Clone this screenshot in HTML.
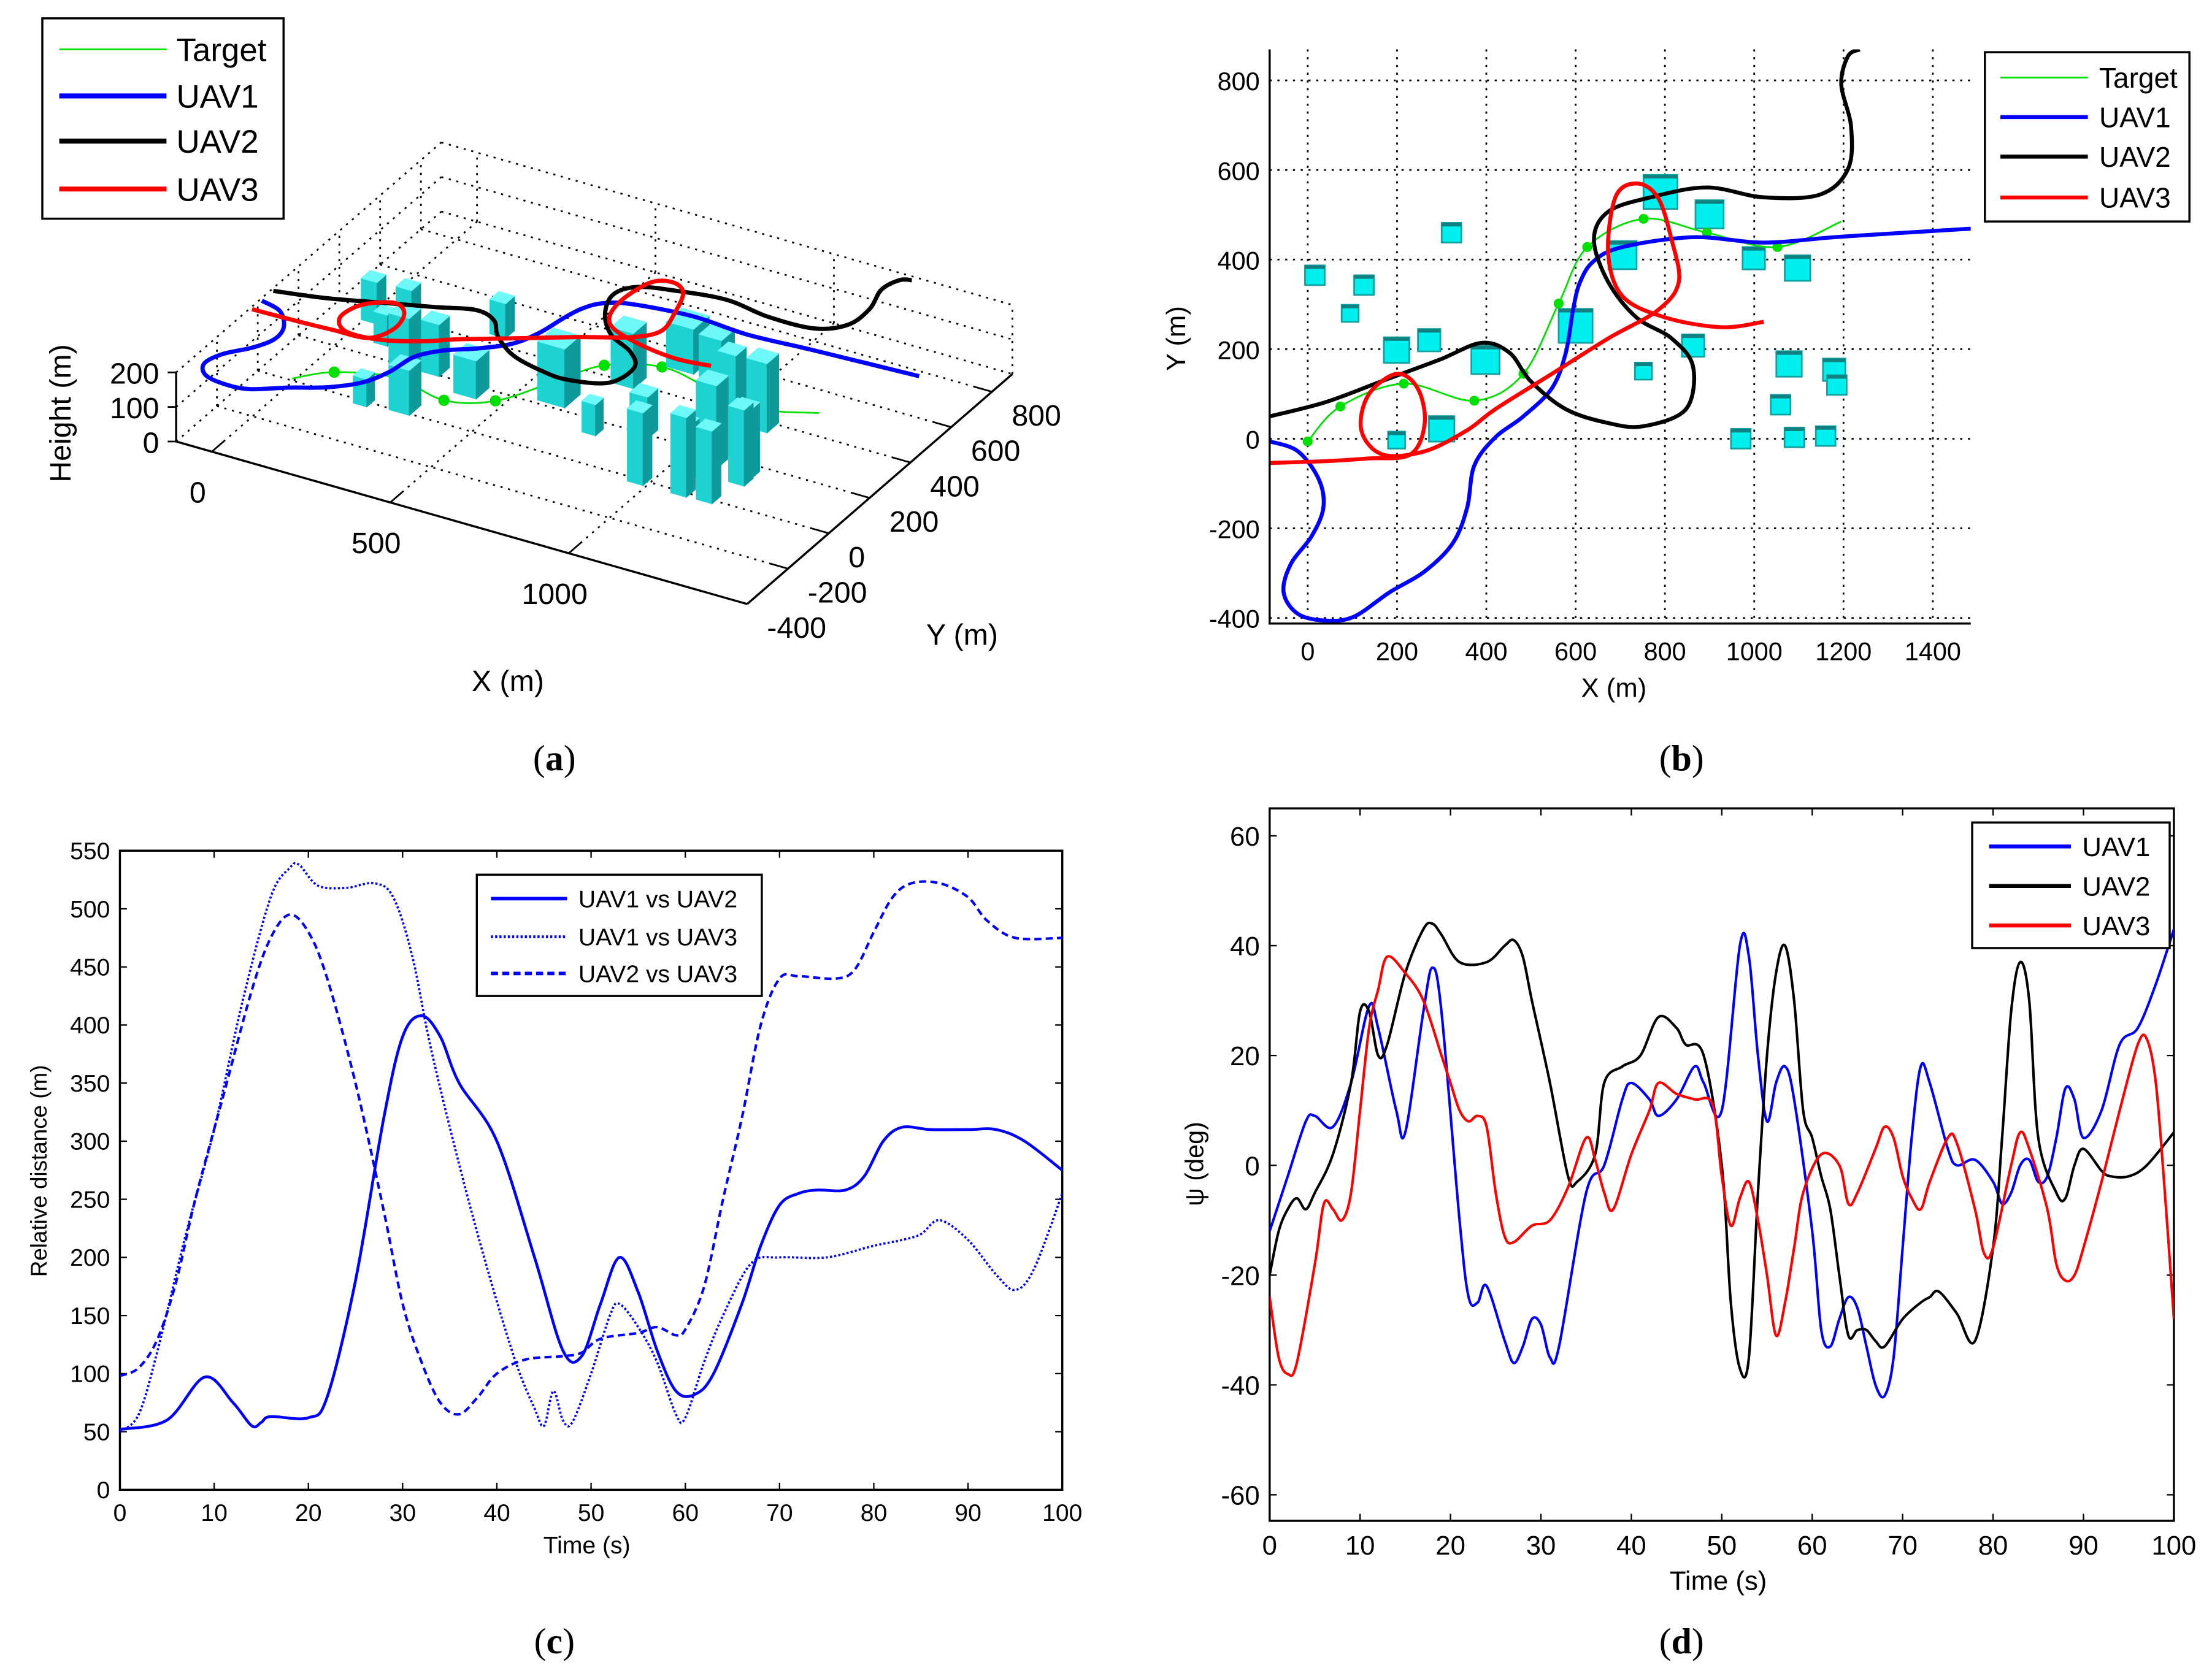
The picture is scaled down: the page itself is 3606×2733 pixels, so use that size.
<!DOCTYPE html>
<html><head><meta charset="utf-8"><style>
html,body{margin:0;padding:0;background:#fff}
svg{display:block}
text{font-family:"Liberation Sans Narrow","Liberation Sans",sans-serif;fill:#000}
.cap{font-family:"Liberation Serif",serif;font-size:26px}
</style></head><body>
<svg id="s" xmlns="http://www.w3.org/2000/svg" width="3606" height="2733" viewBox="0 0 1568 1188" preserveAspectRatio="none">
<defs><clipPath id="cb"><rect x="900" y="35" width="497" height="407"/></clipPath>
<clipPath id="cc"><rect x="85" y="603" width="668" height="453"/></clipPath>
<clipPath id="cd"><rect x="900" y="573" width="641" height="505"/></clipPath></defs>
<text class="cap" x="393" y="546" text-anchor="middle">(<tspan font-weight="bold">a</tspan>)</text>
<text class="cap" x="1192" y="546" text-anchor="middle">(<tspan font-weight="bold">b</tspan>)</text>
<text class="cap" x="393" y="1172" text-anchor="middle">(<tspan font-weight="bold">c</tspan>)</text>
<text class="cap" x="1192" y="1172" text-anchor="middle">(<tspan font-weight="bold">d</tspan>)</text>
</svg>
<script>
// ---------- data ----------
const uav1X=[-85,-22,25,35,9,-38,-54,-22,41,104,183,262,325,357,373,420,483,547,578,594,610,641,705,863,1021,1179,1337,1485];
const uav1Y=[-6,-28,-91,-154,-217,-280,-343,-391,-406,-397,-343,-296,-233,-154,-60,3,50,113,192,287,350,397,428,450,438,450,460,469];
const uav2X=[-85,41,167,294,389,452,499,578,673,752,847,863,815,736,673,641,673,768,894,1021,1147,1210,1217,1195,1210,1236];
const uav2Y=[50,82,129,176,214,192,129,66,35,28,66,161,224,271,350,444,507,539,561,539,545,602,696,791,854,869];
const uav3X=[-85,41,136,230,262,246,199,136,120,167,262,357,420,547,673,784,831,815,784,736,689,673,705,800,926,1021];
const uav3Y=[-54,-50,-44,-35,35,113,145,98,19,-35,-28,19,66,145,224,287,350,444,539,570,539,413,318,271,249,261];
const tgtX=[0,73,215,373,483,562,626,752,894,1052,1195];
const tgtY=[-6,72,123,85,145,302,428,491,460,428,485];
const bldX=[16,126,95,322,199,272,398,600,300,199,752,790,900,705,863,999,1097,1078,1179,1185,1059,970,1090,1160];
const bldY=[365,343,280,460,198,220,176,252,22,-3,151,551,501,410,208,403,381,167,154,120,76,0,3,6];
const bldS=[44,44,38,44,57,50,63,76,57,38,38,76,63,63,50,50,57,57,50,44,44,44,44,44];
const bldH=[120,140,90,100,160,150,110,170,130,80,90,130,150,160,120,180,200,240,200,220,160,210,230,210];
const xTicksB=[0,200,400,600,800,1000,1200,1400];
const yTicksB=[-400,-200,0,200,400,600,800];
// panel c
const tA=[0,5,9,12,14,15,16,20,22,25,28,30,32,34,36,40,44,47,49,51,53,55,57,59,61,63,66,68,70,72,74,77,79,81,83,86,90,93,96,100];
const dA=[52,60,97,75,55,58,63,62,80,180,320,390,408,390,350,300,200,120,115,160,200,170,120,85,82,100,160,210,245,255,258,258,270,300,312,310,310,310,300,275];
const tB=[0,2,4,7,10,13,16,18,19,21,24,27,29,31,33,36,39,42,44,45,46,47,48,50,52,53,55,57,59,60,62,64,67,70,75,80,83,85,87,90,93,95,97,100];
const dB=[50,65,120,220,310,420,510,535,538,520,518,522,510,460,380,280,190,110,70,55,85,60,58,100,150,160,140,110,65,62,110,150,195,200,200,210,215,220,232,215,185,172,190,255];
const tC=[0,2,4,6,8,11,14,16,18,20,22,25,28,30,32,34,36,38,40,43,47,49,51,55,57,59,60,62,64,66,68,70,72,76,78,80,82,84,87,90,92,95,100];
const dC=[98,105,130,180,250,340,430,475,495,480,440,350,240,160,110,75,65,80,100,112,115,118,130,135,140,133,138,175,250,320,400,440,442,440,448,480,510,522,522,510,490,475,475];
const xTicksC=[0,10,20,30,40,50,60,70,80,90,100];
const yTicksC=[0,50,100,150,200,250,300,350,400,450,500,550];
// panel d
const t1=[0,2,4,5,7,9,11,12,14,15,17,18,19,21,22,23,24,26,27,28,29,30,31,32,35,37,39,40,42,43,45,47,48,50,52,53,54,55,56,57,58,60,61,62,63,64,65,66,67,68,69,70,71,72,73,75,76,78,80,81,82,83,84,85,86,87,88,89,90,92,94,96,98,100];
const p1=[-12,-2,8,9,7,15,29,25,10,6,28,36,28,-10,-24,-25,-22,-32,-36,-33,-28,-29,-35,-33,-5,0,12,15,12,9,12,18,15,10,40,38,20,8,15,18,12,-12,-30,-33,-28,-24,-26,-33,-40,-42,-35,-15,5,18,15,3,0,1,-3,-7,-5,0,1,-3,-2,5,14,12,5,10,22,25,33,43];
const t2=[0,1,2,3,4,5,7,9,10,11,12,13,15,17,18,19,21,24,26,27,28,29,31,33,34,36,37,39,41,43,45,46,48,50,51,52,53,54,55,56,57,58,59,60,61,62,63,64,65,66,67,68,70,72,73,74,76,78,80,81,82,83,84,85,87,88,89,90,92,93,95,97,100];
const p2=[-20,-12,-8,-6,-8,-5,2,15,28,28,20,22,35,43,44,42,37,37,40,41,38,30,15,-2,-3,2,15,18,20,27,25,22,20,0,-25,-37,-35,-5,20,35,40,30,10,5,-2,-8,-20,-31,-30,-30,-32,-33,-28,-25,-24,-23,-27,-32,-15,5,28,37,30,5,-5,-6,0,3,-1,-2,-2,0,6];
const t3=[0,1,2,3,5,6,7,8,9,10,11,12,13,15,17,19,20,21,22,23,24,25,26,27,29,31,33,35,36,37,38,40,42,43,45,47,49,50,51,52,53,54,55,56,57,58,59,61,63,64,65,67,68,69,70,71,72,73,75,76,78,79,80,82,83,84,86,87,88,89,90,92,94,96,97,98,99,100];
const p3=[-24,-35,-38,-36,-18,-7,-8,-10,-5,10,25,32,38,35,30,20,15,10,8,9,7,-5,-13,-14,-11,-10,-4,5,1,-5,-8,2,10,15,13,12,11,-2,-11,-6,-3,-10,-20,-31,-25,-15,-5,2,0,-7,-5,3,7,5,-2,-6,-8,-3,5,4,-8,-16,-15,0,6,3,-8,-18,-21,-20,-15,-3,10,22,23,15,-5,-28];
const xTicksD=[0,10,20,30,40,50,60,70,80,90,100];
const yTicksD=[-60,-40,-20,0,20,40,60];
// 3D ticks
const xTicksA=[0,500,1000];
const yTicksA=[-400,-200,0,200,400,600,800];
const zTicksA=[0,100,200];

// ---------- helpers ----------
const S=document.getElementById('s');const NS='http://www.w3.org/2000/svg';
function mk(tag,at,par){const e=document.createElementNS(NS,tag);for(const k in at)e.setAttribute(k,at[k]);(par||S).appendChild(e);return e;}
function smooth(pts){if(pts.length<2)return '';let d='M'+pts[0][0].toFixed(2)+','+pts[0][1].toFixed(2);
for(let i=0;i<pts.length-1;i++){const p0=pts[i-1]||pts[i],p1=pts[i],p2=pts[i+1],p3=pts[i+2]||p2;
const c1=[p1[0]+(p2[0]-p0[0])/6,p1[1]+(p2[1]-p0[1])/6],c2=[p2[0]-(p3[0]-p1[0])/6,p2[1]-(p3[1]-p1[1])/6];
d+='C'+c1[0].toFixed(2)+','+c1[1].toFixed(2)+' '+c2[0].toFixed(2)+','+c2[1].toFixed(2)+' '+p2[0].toFixed(2)+','+p2[1].toFixed(2);}return d;}
function txt(x,y,s,sz,anc,par){const e=mk('text',{x:x,y:y,'font-size':sz,'text-anchor':anc||'middle'},par);e.textContent=s;return e;}
let el;

// ---------- panel b ----------
const bx=X=>927+X*63.3/200, byy=Y=>311-Y*63.5/200;
const gB=mk('g',{});


xTicksB.forEach(v=>{el=mk('line',{x1:bx(v),x2:bx(v),y1:35,y2:442,stroke:'#000','stroke-width':1.2,'stroke-dasharray':'1.5,4'},gB);

el=txt(bx(v),468,String(v),18,'middle',gB);});
yTicksB.forEach(v=>{el=mk('line',{x1:900,x2:1397,y1:byy(v),y2:byy(v),stroke:'#000','stroke-width':1.2,'stroke-dasharray':'1.5,4'},gB);

el=txt(893,byy(v)+7,String(v),18,'end',gB);});
const gBc=mk('g',{'clip-path':'url(#cb)'},gB);
bldX.forEach((X,i)=>{const s=bldS[i]*63.3/200;
el=mk('rect',{x:bx(X)-s/2,y:byy(bldY[i])-s/2,width:s,height:s,fill:'#00f0f0',stroke:'#10a0a0','stroke-width':1.2},gBc);

el=mk('rect',{x:bx(X)-s/2,y:byy(bldY[i])-s/2,width:s,height:2.5,fill:'#108080'},gBc);
});
function seriesB(xs,ys,col,w,name){const p=xs.map((x,i)=>[bx(x),byy(ys[i])]);el=mk('path',{d:smooth(p),fill:'none',stroke:col,'stroke-width':w,'stroke-linejoin':'round'},gBc);
return p;}
const tp=seriesB(tgtX,tgtY,'#00e000',1.2,'b-target-line');
tp.slice(0,10).forEach(p=>{el=mk('circle',{cx:p[0],cy:p[1],r:3.5,fill:'#00e000'},gBc);});
seriesB(uav1X,uav1Y,'#0000ff',2.8,'b-uav1-line');
seriesB(uav2X,uav2Y,'#000',2.8,'b-uav2-line');
seriesB(uav3X,uav3Y,'#ff0000',2.8,'b-uav3-line');
el=mk('path',{d:'M900,35V442H1397',fill:'none',stroke:'#000','stroke-width':1.5},gB);
el=txt(1144,494,'X (m)',19,'middle',gB);
el=txt(0,0,'Y (m)',19,'middle',gB);el.setAttribute('transform','translate(840,240) rotate(-90)');

function legend(par,x,y,w,h,items,lx1,lx2,tx,rows,sz,nm){const g=mk('g',{},par);
mk('rect',{x:x,y:y,width:w,height:h,fill:'#fff',stroke:'#000','stroke-width':1.5},g);
items.forEach((it,i)=>{const l=mk('line',{x1:lx1,x2:lx2,y1:rows[i],y2:rows[i],stroke:it[1],'stroke-width':it[2],'stroke-dasharray':it[3]||'none'},g);

const t=txt(tx,rows[i]+sz*0.36,it[0],sz,'start',g);});}
legend(gB,1407,37,145,120,[['Target','#00e000',1.2],['UAV1','#0000ff',2.8],['UAV2','#000',2.8],['UAV3','#ff0000',2.8]],1418,1480,1488,[55,83,111,140],20,'b-legend');

// ---------- panel a (3D) ----------
const ex=[0.253,0.072],ey=[0.1446,-0.1254],ez=-0.245,A0=[208,270];
const P=(X,Y,Z)=>[A0[0]+X*ex[0]+Y*ey[0],A0[1]+X*ex[1]+Y*ey[1]+Z*ez];
const gA=mk('g',{});
const X0=-100,X1=1500,Y0=-400,Y1=900,ZT=200;
function ln(a,b,st,w,da,nm){const l=mk('line',{x1:a[0],y1:a[1],x2:b[0],y2:b[1],stroke:st,'stroke-width':w,'stroke-dasharray':da||'none'},gA);}
[0,500,1000,1500].forEach(v=>{ln(P(v,Y0,0),P(v,Y1,0),'#000',1.2,'1.5,4','a-floor-grid-x');ln(P(v,Y1,0),P(v,Y1,ZT),'#000',1.2,'1.5,4','a-wall-grid-x');});
yTicksA.forEach(v=>{ln(P(X0,v,0),P(X1,v,0),'#000',1.2,'1.5,4','a-floor-grid-y');ln(P(X0,v,0),P(X0,v,ZT),'#000',1.2,'1.5,4','a-wall-grid-y');});
zTicksA.forEach(v=>{ln(P(X0,Y0,v),P(X0,Y1,v),'#000',1.2,'1.5,4','a-wall-grid-z');ln(P(X0,Y1,v),P(X1,Y1,v),'#000',1.2,'1.5,4','a-wall-grid-z');});
ln(P(X0,Y0,0),P(X1,Y0,0),'#000',1.5,null,'a-x-axis');ln(P(X1,Y0,0),P(X1,Y1,0),'#000',1.5,null,'a-y-axis');ln(P(X0,Y0,0),P(X0,Y0,ZT),'#000',1.5,null,'a-z-axis');
xTicksA.forEach(v=>{const p=P(v,Y0,0);ln(p,P(v,Y0+60,0),'#000',1.2,null,'a-x-tick');el=txt(p[0]-10,p[1]+36,String(v),21,'middle',gA);});
yTicksA.forEach(v=>{const p=P(X1,v,0);ln(p,P(X1-50,v,0),'#000',1.2,null,'a-y-tick');el=txt(p[0]+14,p[1]+24,String(v),21,'start',gA);});
zTicksA.forEach(v=>{const p=P(X0,Y0,v);ln(p,[p[0]-6,p[1]],'#000',1.2,null,'a-z-tick');el=txt(p[0]-12,p[1]+8,String(v),21,'end',gA);});
el=txt(360,490,'X (m)',21,'middle',gA);
el=txt(682,457,'Y (m)',21,'middle',gA);
el=txt(0,0,'Height (m)',21,'middle',gA);el.setAttribute('transform','translate(50,293) rotate(-90)');
// target
const tpa=tgtX.map((x,i)=>P(x,tgtY[i],10));
el=mk('path',{d:smooth(tpa),fill:'none',stroke:'#00e000','stroke-width':1.2},gA);
tpa.slice(1,10).forEach(p=>{el=mk('circle',{cx:p[0],cy:p[1],r:4,fill:'#00e000'},gA);});
// buildings
const order=bldX.map((x,i)=>i).sort((a,b)=>(bldY[b]-bldX[b])-(bldY[a]-bldX[a]));
order.forEach(i=>{const h=bldS[i]/2,x0=bldX[i]-h,x1=bldX[i]+h,y0=bldY[i]-h,y1=bldY[i]+h,z=bldH[i];
const g=mk('g',{},gA);
const f=(pts,c)=>mk('polygon',{points:pts.map(p=>p.join(',')).join(' '),fill:c,stroke:c,'stroke-width':0.5},g);
f([P(x0,y0,0),P(x1,y0,0),P(x1,y0,z),P(x0,y0,z)],'#1fd2d2');
f([P(x1,y0,0),P(x1,y1,0),P(x1,y1,z),P(x1,y0,z)],'#0e9a9a');
f([P(x0,y0,z),P(x1,y0,z),P(x1,y1,z),P(x0,y1,z)],'#6ff8f8');});
function seriesA(xs,ys,col,nm){const p=xs.map((x,i)=>P(x,ys[i],210));el=mk('path',{d:smooth(p),fill:'none',stroke:col,'stroke-width':3,'stroke-linejoin':'round'},gA);}
seriesA(uav1X,uav1Y,'#0000ff','a-uav1-line');seriesA(uav2X,uav2Y,'#000','a-uav2-line');seriesA(uav3X,uav3Y,'#ff0000','a-uav3-line');
legend(gA,30,13,171,142,[['Target','#00e000',1.2],['UAV1','#0000ff',3.5],['UAV2','#000',3.5],['UAV3','#ff0000',3.5]],42,118,125,[35,68,100,134],23,'a-legend');

// ---------- panel c ----------
const cx=t=>85+t*6.68, cy=v=>1056-v*0.8236;
const gC=mk('g',{});
el=mk('rect',{x:85,y:603,width:668,height:453,fill:'none',stroke:'#000','stroke-width':1.5},gC);
xTicksC.forEach(v=>{el=mk('path',{d:`M${cx(v)},1056v-5M${cx(v)},603v5`,stroke:'#000','stroke-width':1},gC);
el=txt(cx(v),1078,String(v),17,'middle',gC);});
yTicksC.forEach(v=>{el=mk('path',{d:`M85,${cy(v)}h5M753,${cy(v)}h-5`,stroke:'#000','stroke-width':1},gC);
el=txt(78,cy(v)+6,String(v),17,'end',gC);});
const gCc=mk('g',{'clip-path':'url(#cc)'},gC);
function seriesC(ts,vs,da,w,nm){el=mk('path',{d:smooth(ts.map((t,i)=>[cx(t),cy(vs[i])])),fill:'none',stroke:'#0000ff','stroke-width':w,'stroke-dasharray':da},gCc);}
seriesC(tA,dA,'none',2,'c-uav1-vs-uav2');seriesC(tB,dB,'1.5,1.5',1.6,'c-uav1-vs-uav3');seriesC(tC,dC,'5,3',1.8,'c-uav2-vs-uav3');
el=txt(416,1101,'Time (s)',17,'middle',gC);
el=txt(0,0,'Relative distance (m)',16,'middle',gC);el.setAttribute('transform','translate(33,830) rotate(-90)');
legend(gC,338,620,202,86,[['UAV1 vs UAV2','#0000ff',2.5],['UAV1 vs UAV3','#0000ff',2,'1.5,1.5'],['UAV2 vs UAV3','#0000ff',2.5,'5,3']],348,402,410,[637,664,690],17,'c-legend');

// ---------- panel d ----------
const dx=t=>900+t*6.41, dy=v=>826-v*3.892;
const gD=mk('g',{});
el=mk('rect',{x:900,y:573,width:641,height:505,fill:'none',stroke:'#000','stroke-width':1.5},gD);
xTicksD.forEach(v=>{el=mk('path',{d:`M${dx(v)},1078v-5M${dx(v)},573v5`,stroke:'#000','stroke-width':1},gD);
el=txt(dx(v),1102,String(v),19,'middle',gD);});
yTicksD.forEach(v=>{el=mk('path',{d:`M900,${dy(v)}h5M1541,${dy(v)}h-5`,stroke:'#000','stroke-width':1},gD);
el=txt(893,dy(v)+7,String(v),19,'end',gD);});
const gDc=mk('g',{'clip-path':'url(#cd)'},gD);
function seriesD(ts,vs,col,nm){el=mk('path',{d:smooth(ts.map((t,i)=>[dx(t),dy(vs[i])])),fill:'none',stroke:col,'stroke-width':1.8},gDc);}
seriesD(t1,p1,'#0000ff','d-uav1-line');seriesD(t2,p2,'#000','d-uav2-line');seriesD(t3,p3,'#ff0000','d-uav3-line');
el=txt(1218,1127,'Time (s)',19,'middle',gD);
el=txt(0,0,'ψ (deg)',18,'middle',gD);el.setAttribute('transform','translate(853,825) rotate(-90)');
legend(gD,1398,583,140,89,[['UAV1','#0000ff',2.8],['UAV2','#000',2.8],['UAV3','#ff0000',2.8]],1410,1468,1476,[600,628,656],19,'d-legend');
</script>
</body></html>
